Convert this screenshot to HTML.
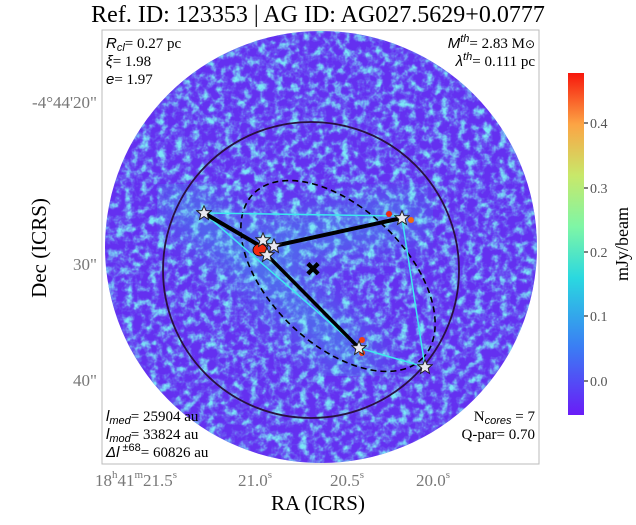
<!DOCTYPE html>
<html><head><meta charset="utf-8"><style>
body{margin:0;background:#fff;width:636px;height:520px;overflow:hidden;font-family:"Liberation Serif",serif}
</style></head><body>
<svg width="636" height="520" xmlns="http://www.w3.org/2000/svg" font-family="Liberation Serif, serif">
<defs>
<filter id="nz" x="0" y="0" width="100%" height="100%">
<feTurbulence type="fractalNoise" baseFrequency="0.12" numOctaves="3" seed="4" result="n"/>
<feColorMatrix in="n" type="matrix" values="0 0 0 0 0.2  0 0 0 0 0.8  0 0 0 0 0.92  2.4 0 0 0 -0.92" result="c"/>
<feComponentTransfer in="c"><feFuncA type="table" tableValues="0 0.2 0.65 1"/></feComponentTransfer>
</filter>
<filter id="bl"><feGaussianBlur stdDeviation="18"/></filter>
<clipPath id="cc"><circle cx="321" cy="247" r="216"/></clipPath>
<linearGradient id="cb" x1="0" y1="1" x2="0" y2="0">
<stop offset="0" stop-color="#6a1cf7"/><stop offset="0.2" stop-color="#3a7ef4"/><stop offset="0.4" stop-color="#2ad8e0"/><stop offset="0.55" stop-color="#7ef6a6"/><stop offset="0.7" stop-color="#c8e86a"/><stop offset="0.85" stop-color="#fca444"/><stop offset="1" stop-color="#f7170c"/>
</linearGradient>
<symbol id="st" viewBox="-10 -10 20 20"><polygon points="0,-9 2.6,-3 9,-2.8 4,1.5 5.6,8 0,4.4 -5.6,8 -4,1.5 -9,-2.8 -2.6,-3" fill="#e8e8f0" stroke="#222" stroke-width="1.2"/></symbol>
</defs>
<text x="318" y="22" font-size="24" text-anchor="middle">Ref. ID: 123353 | AG ID: AG027.5629+0.0777</text>
<rect x="102" y="30" width="437" height="434" fill="#fff" stroke="#bbb"/>
<g clip-path="url(#cc)">
<rect x="100" y="28" width="442" height="440" fill="#6430f0"/>
<g filter="url(#bl)" opacity="0.45" stroke="#30c8e8" stroke-width="40" stroke-linecap="round">
<line x1="180" y1="200" x2="360" y2="360"/><line x1="260" y1="245" x2="410" y2="215"/>
</g>
<rect x="100" y="28" width="442" height="440" filter="url(#nz)"/>
</g>
<circle cx="311" cy="270" r="148" fill="none" stroke="#2a1040" stroke-width="1.8"/>
<ellipse cx="338" cy="276" rx="118" ry="68" transform="rotate(44 338 276)" fill="none" stroke="#000" stroke-width="1.6" stroke-dasharray="6,4"/>
<g stroke="#3ee8ee" stroke-width="1.5" fill="none">
<line x1="204" y1="213" x2="402" y2="216"/><line x1="402" y1="218" x2="425" y2="367"/><line x1="359" y1="348" x2="425" y2="367"/><line x1="204" y1="213" x2="359" y2="348"/>
</g>
<g stroke="#000" fill="none">
<line x1="204" y1="213" x2="267" y2="250" stroke-width="4"/>
<line x1="274" y1="246" x2="402" y2="218" stroke-width="4"/>
<line x1="267" y1="255" x2="359" y2="348" stroke-width="3.5"/>
</g>
<ellipse cx="260" cy="250" rx="7" ry="6" fill="#f02a10" stroke="#000" stroke-width="0.8"/>
<circle cx="389" cy="214" r="3" fill="#f02a10"/><circle cx="411" cy="220" r="3" fill="#f06a10"/>
<circle cx="362" cy="340" r="3" fill="#f04010"/><circle cx="362" cy="353" r="3" fill="#f04010"/>
<text x="313" y="276" font-size="20" text-anchor="middle" font-family="DejaVu Sans" font-weight="bold">✖</text>
<use href="#st" x="196" y="205" width="16" height="16"/>
<use href="#st" x="255" y="232" width="16" height="16"/>
<use href="#st" x="266" y="238" width="16" height="16"/>
<use href="#st" x="259" y="247" width="16" height="16"/>
<use href="#st" x="394" y="210" width="16" height="16"/>
<use href="#st" x="351" y="340" width="16" height="16"/>
<use href="#st" x="417" y="359" width="16" height="16"/>
<g font-size="15">
<text x="106" y="48"><tspan font-family="Liberation Sans" font-style="italic">R</tspan><tspan font-size="11" dy="3" font-family="Liberation Sans" font-style="italic">cl</tspan><tspan dy="-3">= 0.27 pc</tspan></text>
<text x="106" y="66"><tspan font-family="Liberation Sans" font-style="italic">ξ</tspan>= 1.98</text>
<text x="106" y="84"><tspan font-family="Liberation Sans" font-style="italic">e</tspan>= 1.97</text>
<text x="535" y="48" text-anchor="end"><tspan font-family="Liberation Sans" font-style="italic">M</tspan><tspan font-size="11" dy="-6" font-family="Liberation Sans" font-style="italic">th</tspan><tspan dy="6">= 2.83 M</tspan><tspan font-size="12">⊙</tspan></text>
<text x="535" y="66" text-anchor="end"><tspan font-family="Liberation Sans" font-style="italic">λ</tspan><tspan font-size="11" dy="-6" font-family="Liberation Sans" font-style="italic">th</tspan><tspan dy="6">= 0.111 pc</tspan></text>
<text x="106" y="421"><tspan font-family="Liberation Sans" font-style="italic">l</tspan><tspan font-size="11" dy="3" font-family="Liberation Sans" font-style="italic">med</tspan><tspan dy="-3">= 25904 au</tspan></text>
<text x="106" y="439"><tspan font-family="Liberation Sans" font-style="italic">l</tspan><tspan font-size="11" dy="3" font-family="Liberation Sans" font-style="italic">mod</tspan><tspan dy="-3">= 33824 au</tspan></text>
<text x="106" y="457"><tspan font-family="Liberation Sans" font-style="italic">Δl</tspan><tspan font-size="11" dy="-6" font-family="Liberation Sans"> ±68</tspan><tspan dy="6">= 60826 au</tspan></text>
<text x="535" y="421" text-anchor="end">N<tspan font-size="11" dy="3" font-family="Liberation Sans" font-style="italic">cores</tspan><tspan dy="-3"> = 7</tspan></text>
<text x="535" y="439" text-anchor="end">Q-par= 0.70</text>
</g>
<g font-size="17" fill="#777">
<text x="97" y="108" text-anchor="end">-4°44'20"</text>
<text x="97" y="270" text-anchor="end">30"</text>
<text x="97" y="386" text-anchor="end">40"</text>
<text x="136" y="486" text-anchor="middle">18<tspan font-size="11" dy="-8">h</tspan><tspan dy="8">41</tspan><tspan font-size="11" dy="-8">m</tspan><tspan dy="8">21.5</tspan><tspan font-size="11" dy="-8">s</tspan></text>
<text x="255" y="486" text-anchor="middle">21.0<tspan font-size="11" dy="-8">s</tspan></text>
<text x="347" y="486" text-anchor="middle">20.5<tspan font-size="11" dy="-8">s</tspan></text>
<text x="433" y="486" text-anchor="middle">20.0<tspan font-size="11" dy="-8">s</tspan></text>
</g>
<text x="318" y="510" font-size="21" text-anchor="middle">RA (ICRS)</text>
<text transform="translate(46 248) rotate(-90)" font-size="21" text-anchor="middle">Dec (ICRS)</text>
<rect x="568" y="73" width="16" height="342" fill="url(#cb)"/>
<g stroke="#000" stroke-width="1"><line x1="584" y1="381" x2="588" y2="381"/><line x1="584" y1="316" x2="588" y2="316"/><line x1="584" y1="252" x2="588" y2="252"/><line x1="584" y1="188" x2="588" y2="188"/><line x1="584" y1="123" x2="588" y2="123"/></g>
<g font-size="14" fill="#555"><text x="590" y="386">0.0</text><text x="590" y="321">0.1</text><text x="590" y="257">0.2</text><text x="590" y="193">0.3</text><text x="590" y="128">0.4</text></g>
<text transform="translate(628 244) rotate(-90)" font-size="18" text-anchor="middle">mJy/beam</text>
</svg>
</body></html>
